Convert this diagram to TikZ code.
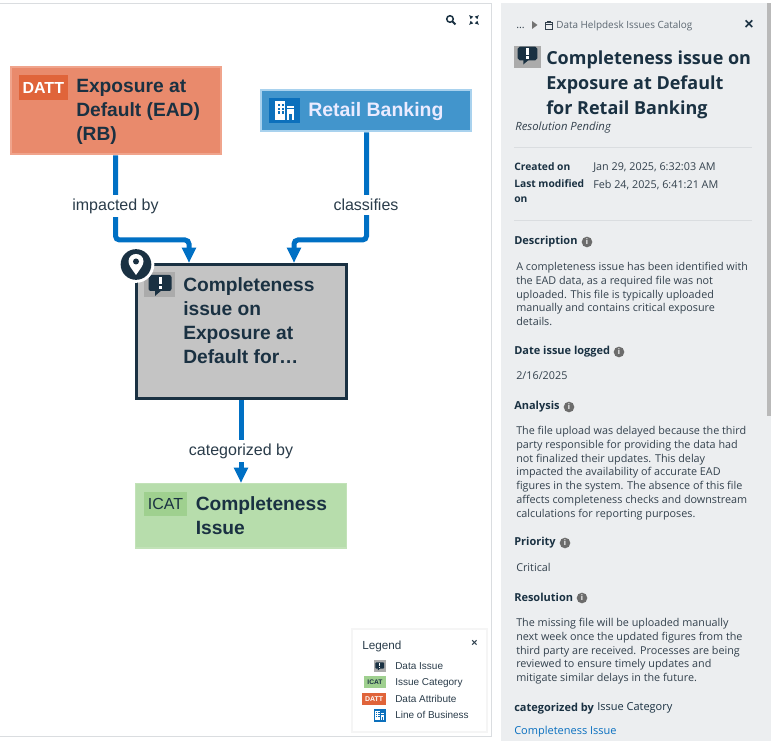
\documentclass[tikz,border=0pt]{standalone}
\usepackage{fontspec}
\setmainfont{Liberation Sans}
\newfontfamily\osans{Open Sans}
\usetikzlibrary{arrows.meta,calc}
\definecolor{ink}{HTML}{1A3142}
\definecolor{lab}{HTML}{2A3C4A}
\definecolor{conn}{HTML}{0070C4}
\definecolor{panel}{HTML}{ECEEF0}
\definecolor{ptxt}{HTML}{33414D}
\definecolor{rule}{HTML}{DADDE0}
\definecolor{orangeb}{HTML}{E98A6C}
\definecolor{orangee}{HTML}{F0A48C}
\definecolor{orangeh}{HTML}{E0643A}
\definecolor{blueb}{HTML}{4295CC}
\definecolor{bluee}{HTML}{A9D2EE}
\definecolor{blueh}{HTML}{0C70BC}
\definecolor{greenb}{HTML}{B7DDAC}
\definecolor{greenh}{HTML}{9FD08F}
\definecolor{greyb}{HTML}{C4C4C4}
\definecolor{greyh}{HTML}{ABABAB}
\definecolor{linkc}{HTML}{0A70C0}
\newcommand{\pxsize}[2]{\fontsize{#1}{#2}\selectfont}
\newcommand{\bubbleicon}[3]{%
  \begin{scope}[shift={(#1,#2)},scale=#3]
    \fill[ink,rounded corners=2.2*#3*0.75pt] (-11.5,-8) rectangle (11.5,8);
    \fill[ink] (-5,7) -- (-5,13) -- (2,7) -- cycle;
    \fill[white] (-1.5,-6) rectangle (1.5,1.5);
    \fill[white] (-1.5,3.2) rectangle (1.5,6);
  \end{scope}}
\newcommand{\buildingicon}[3]{%
  \begin{scope}[shift={(#1,#2)},scale=#3]
    \fill[white] (-11,-11) rectangle (1,11);
    \fill[white] (2.5,-5) rectangle (11,11);
    \fill[blueh] (4.8,4) rectangle (8.8,11);
    \fill[blueh] (2.5,-2.6) rectangle (11,-1.6);
    \foreach \u in {-8,-3}
      \foreach \v in {-8,-3.5,1}
        \fill[blueh] (\u,\v) rectangle +(2.6,2.6);
  \end{scope}}
\tikzset{
  x=0.75pt,y=-0.75pt,
  title/.style={anchor=north west,align=left,inner sep=0pt,text=ink,font=\bfseries\pxsize{14.4pt}{18pt}},
  conline/.style={draw=conn,line width=3.75pt,rounded corners=3pt,-{Triangle[width=10pt,length=11.5pt]}},
  conlabel/.style={fill=white,text=lab,font=\pxsize{12pt}{14pt},inner xsep=1pt,inner ysep=3pt},
  badgetxt/.style={inner sep=0pt,font=\bfseries\pxsize{12pt}{14pt}},
  legtxt/.style={anchor=base west,inner sep=0pt,text=lab,font=\pxsize{7.5pt}{10pt}},
  ptext/.style={anchor=north west,align=left,inner sep=0pt,text=ptxt,font=\osans\pxsize{8.1pt}{10.35pt}},
  phead/.style={anchor=base west,inner sep=0pt,text=ink,font=\osans\bfseries\pxsize{8.25pt}{10pt}},
  pval/.style={anchor=base west,inner sep=0pt,text=ptxt,font=\osans\pxsize{8.1pt}{10pt}},
  infoi/.style={circle,fill=gray!85!black,text=white,inner sep=0pt,minimum size=8pt,font=\bfseries\pxsize{6pt}{6pt}},
  rulel/.style={draw=rule,line width=0.75pt},
}
\begin{document}
\begin{tikzpicture}
\useasboundingbox (0,0) rectangle (775,741);
\fill[white] (0,0) rectangle (775,741);
% canvas frame
\draw[draw=rule,line width=0.75pt] (-3,3.5) -- (491.5,3.5) -- (491.5,736.5) -- (-3,736.5);
% right panel
\fill[panel] (501,3) rectangle (771,741);
\fill[gray!55] (766.5,3) rectangle (771,416);
% canvas tools
\draw[ink,line width=1.1pt] (450,19) circle (3.3);
\draw[ink,line width=1.4pt] (452.6,21.6) -- (455.5,24.5);
\begin{scope}[ink,line width=0.9pt]
  \draw[-{Latex[length=3pt,width=3pt]}] (472,18) -- (469,15);
  \draw[-{Latex[length=3pt,width=3pt]}] (476,18) -- (479,15);
  \draw[-{Latex[length=3pt,width=3pt]}] (472,22) -- (469,25);
  \draw[-{Latex[length=3pt,width=3pt]}] (476,22) -- (479,25);
\end{scope}

% diagram boxes
\node[fill=orangeb,draw=orangee,line width=1.5pt,anchor=north west,minimum width=157.5pt,minimum height=65.5pt,inner sep=0pt] (datt) at (10,66) {};
\node[fill=blueb,draw=bluee,line width=1.5pt,anchor=north west,minimum width=157.5pt,minimum height=31pt,inner sep=0pt] (lob) at (260,89) {};
\node[fill=greyb,draw=ink,line width=2.25pt,anchor=north west,minimum width=157.5pt,minimum height=100.5pt,inner sep=0pt] (issue) at (135,263) {};
\node[fill=greenb,draw=greenb!85!white,line width=1pt,anchor=north west,minimum width=158.2pt,minimum height=48.2pt,inner sep=0pt] (icat) at (135,483) {};

\coordinate (inA) at (189,263);
\coordinate (inB) at (294,263);
\coordinate (inC) at (241,483);

% connectors
\draw[conline] (datt.south -| 115.5,0) -- (115.5,240) -- (inA |- 0,240) -- (inA);
\draw[conline] (lob.south -| 366.5,0) -- (366.5,240) -- (inB |- 0,240) -- (inB);
\draw[conline] (issue.south -| inC) -- (inC);
\node[conlabel] (l1) at (115.5,206) {impacted by};
\node[conlabel] (l2) at (366,205) {classifies};
\node[conlabel] (l3) at (241,451) {categorized by};

% node content
\fill[orangeh] (19,75.5) rectangle (67.5,100);
\node[badgetxt,text=white] (dattb) at (43.3,87.8) {DATT};
\node[title] (dattt) at (76,79.5) {Exposure at\\Default (EAD)\\(RB)};

\fill[blueh] (269,98) rectangle (300,123);
\buildingicon{284.5}{110.5}{0.85}
\node[anchor=base west,inner sep=0pt,text=white!92!blue,font=\bfseries\pxsize{14.6pt}{18pt}] (lobt) at (308,117) {Retail Banking};

\fill[greyh] (144,272) rectangle (175,297);
\bubbleicon{160}{283}{1}
\node[title] (issuet) at (183,277) {Completeness\\issue on\\Exposure at\\Default for…};

\fill[greenh] (144,492) rectangle (187,516);
\node[badgetxt,text=ink,font=\pxsize{12pt}{14pt}] (icatb) at (165.5,504) {ICAT};
\node[title] (icatt) at (195.5,496.5) {Completeness\\Issue};

% focus pin
\node[circle,fill=white,minimum size=27.5pt,inner sep=0pt] (pinr) at (136,264.5) {};
\node[circle,fill=ink,minimum size=23pt,inner sep=0pt] (pin) at (136,264.5) {};
\fill[white] (136,275) .. controls (132,269) and (128.5,265.5) .. (128.5,261.5) .. controls (128.5,251.5) and (143.5,251.5) .. (143.5,261.5) .. controls (143.5,265.5) and (140,269) .. (136,275) -- cycle;
\fill[ink] (136,261.5) circle (3);

% legend
\fill[black!4] (351,628) rectangle (488,733);
\fill[white] (353,630) rectangle (486,731);
\node[anchor=base west,inner sep=0pt,text=lab,font=\pxsize{8.8pt}{10pt}] (legt) at (362,649.5) {Legend};
\node[inner sep=0pt,text=lab,font=\bfseries\pxsize{8pt}{8pt}] (legx) at (474.5,643) {×};
\fill[greyh] (373.5,660) rectangle (386,672);
\bubbleicon{379.7}{665.5}{0.38}
\fill[greenh] (364,676) rectangle (386,688);
\node[inner sep=0pt,text=ink,font=\bfseries\pxsize{5pt}{6pt}] (legi) at (375,682.5) {ICAT};
\fill[orangeh] (362,693) rectangle (386,705);
\node[inner sep=0pt,text=white,font=\bfseries\pxsize{5.2pt}{6pt}] (legd) at (374,699.5) {DATT};
\fill[blueh] (373.5,709) rectangle (386,721.5);
\buildingicon{379.7}{715.2}{0.42}
\node[legtxt] (lg1) at (395,669) {Data Issue};
\node[legtxt] (lg2) at (395,685) {Issue Category};
\node[legtxt] (lg3) at (395,702) {Data Attribute};
\node[legtxt] (lg4) at (395,718) {Line of Business};

% panel header
\node[pval,font=\osans\pxsize{8pt}{10pt}] (dots) at (516,29) {...};
\fill[gray!90!black] (532,21) -- (537.5,25) -- (532,29) -- cycle;
\draw[ptxt,line width=0.5pt] (545.5,22) rectangle (552.5,29);
\draw[ptxt,line width=0.5pt] (545.5,24) -- (552.5,24) (547,21.5) -- (551,21.5);
\node[pval,text=ptxt!80!white,font=\osans\pxsize{7.45pt}{10pt}] (crumb) at (556,28.5) {Data Helpdesk Issues Catalog};
\node[inner sep=0pt,text=ink,font=\bfseries\pxsize{12pt}{12pt}] (close) at (749,24.5) {×};
\fill[greyh] (514,46) rectangle (541,68);
\bubbleicon{527.5}{53.5}{0.85}
\node[anchor=north west,align=left,inner sep=0pt,text=ink,font=\osans\bfseries\pxsize{13.5pt}{18.75pt}] (ptitle) at (546,51) {Completeness issue on\\Exposure at Default\\for Retail Banking};
\node[pval,font=\osans\itshape\pxsize{8.5pt}{10pt}] (status) at (515,130.5) {Resolution Pending};
\draw[rulel] (514,148) -- (752,148);
\node[phead,font=\osans\bfseries\pxsize{7.7pt}{10pt}] (h1) at (514,171) {Created on};
\node[pval] (v1) at (593,171) {Jan 29, 2025, 6:32:03 AM};
\node[phead,align=left,anchor=north west,font=\osans\bfseries\pxsize{7.7pt}{10.9pt}] (h2) at (514,179.5) {Last modified\\on};
\node[pval] (v2) at (593,189) {Feb 24, 2025, 6:41:21 AM};
\draw[rulel] (514,220.5) -- (752,220.5);

\node[phead] (d1) at (514,245) {Description};
\node[infoi] (i1) at (587,242) {i};
\node[ptext] (d1t) at (516,262) {A completeness issue has been identified with\\the EAD data, as a required file was not\\uploaded. This file is typically uploaded\\manually and contains critical exposure\\details.};
\node[phead] (d2) at (514,355) {Date issue logged};
\node[infoi] (i2) at (619,352) {i};
\node[ptext] (d2t) at (516,371) {2/16/2025};
\node[phead] (d3) at (514,410) {Analysis};
\node[infoi] (i3) at (569,407) {i};
\node[ptext] (d3t) at (516,426) {The file upload was delayed because the third\\party responsible for providing the data had\\not finalized their updates. This delay\\impacted the availability of accurate EAD\\figures in the system. The absence of this file\\affects completeness checks and downstream\\calculations for reporting purposes.};
\node[phead] (d4) at (514,546) {Priority};
\node[infoi] (i4) at (565,543) {i};
\node[ptext] (d4t) at (516,563.5) {Critical};
\node[phead] (d5) at (514,601.5) {Resolution};
\node[infoi] (i5) at (582,598) {i};
\node[ptext] (d5t) at (516,618) {The missing file will be uploaded manually\\next week once the updated figures from the\\third party are received. Processes are being\\reviewed to ensure timely updates and\\mitigate similar delays in the future.};
\node[phead] (d6) at (514,711) {categorized by};
\node[pval,text=ink,font=\osans\pxsize{8.25pt}{10pt}] (d6v) at (597,710) {Issue Category};
\node[pval,text=linkc,font=\osans\pxsize{8.25pt}{10pt}] (d6l) at (514,734) {Completeness Issue};
\end{tikzpicture}
\end{document}
